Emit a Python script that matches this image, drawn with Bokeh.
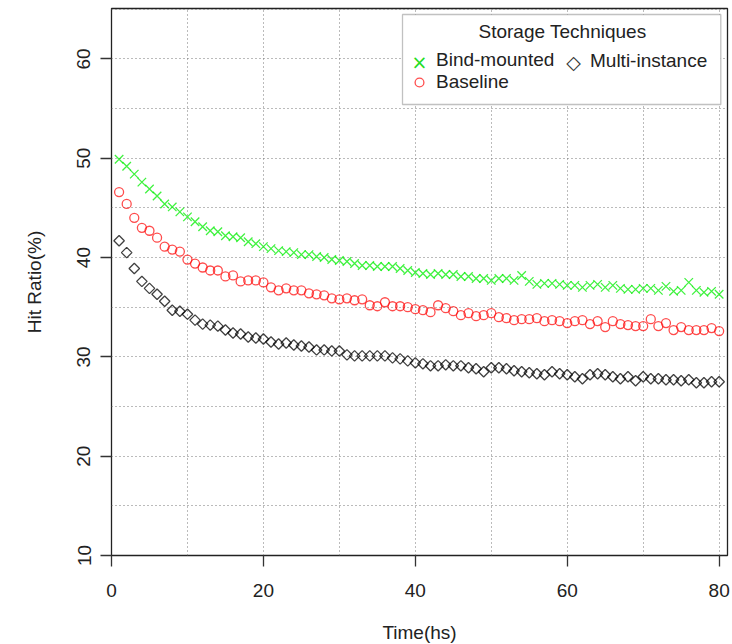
import math
from bokeh.plotting import figure
from bokeh.models import (Range1d, FixedTicker, Legend, LegendItem, BoxAnnotation, Label)
from bokeh.embed import file_html
from bokeh.resources import INLINE

time_hs = list(range(1, 81))

bind_mounted = [
    49.9, 49.2, 48.4, 47.6, 46.9, 46.2, 45.4, 45.1, 44.6, 44.1,
    43.6, 43.1, 42.7, 42.6, 42.2, 42.1, 42.0, 41.6, 41.4, 41.1,
    40.9, 40.7, 40.6, 40.5, 40.3, 40.3, 40.1, 40.0, 39.8, 39.7,
    39.6, 39.4, 39.2, 39.2, 39.1, 39.1, 39.1, 38.9, 38.7, 38.5,
    38.4, 38.3, 38.4, 38.3, 38.3, 38.1, 38.1, 37.9, 37.9, 37.7,
    37.9, 37.9, 37.7, 38.2, 37.6, 37.3, 37.4, 37.4, 37.3, 37.2,
    37.2, 37.0, 37.2, 37.3, 37.0, 37.2, 36.9, 36.8, 36.8, 36.9,
    36.9, 36.7, 37.1, 36.6, 36.7, 37.5, 36.7, 36.5, 36.6, 36.3,
]

baseline = [
    46.6, 45.4, 44.0, 43.0, 42.7, 42.0, 41.1, 40.8, 40.6, 39.8,
    39.4, 39.0, 38.7, 38.7, 38.1, 38.2, 37.6, 37.7, 37.7, 37.5,
    37.0, 36.7, 36.9, 36.7, 36.7, 36.4, 36.3, 36.2, 35.9, 35.8,
    35.9, 35.7, 35.8, 35.2, 35.1, 35.5, 35.1, 35.1, 35.0, 34.8,
    34.7, 34.5, 35.2, 34.9, 34.6, 34.2, 34.4, 34.1, 34.2, 34.4,
    34.0, 33.9, 33.7, 33.8, 33.8, 33.9, 33.6, 33.7, 33.6, 33.4,
    33.6, 33.7, 33.3, 33.6, 33.0, 33.6, 33.3, 33.2, 33.1, 33.1,
    33.8, 33.1, 33.4, 32.7, 33.0, 32.7, 32.7, 32.7, 32.9, 32.6,
]

multi_instance = [
    41.7, 40.5, 38.9, 37.6, 36.9, 36.3, 35.6, 34.7, 34.6, 34.3,
    33.7, 33.3, 33.2, 33.1, 32.7, 32.4, 32.3, 32.0, 31.9, 31.8,
    31.5, 31.3, 31.4, 31.2, 31.1, 31.0, 30.7, 30.7, 30.6, 30.6,
    30.2, 30.1, 30.1, 30.1, 30.1, 30.1, 29.9, 29.8, 29.6, 29.4,
    29.3, 29.1, 29.1, 29.2, 29.1, 29.1, 28.9, 28.8, 28.5, 28.9,
    28.9, 28.8, 28.6, 28.5, 28.4, 28.3, 28.2, 28.5, 28.3, 28.2,
    28.0, 27.8, 28.2, 28.3, 28.2, 28.0, 27.8, 28.0, 27.6, 28.0,
    27.8, 27.8, 27.7, 27.7, 27.6, 27.7, 27.4, 27.4, 27.5, 27.5,
]

x_ticks = [0, 20, 40, 60, 80]
y_ticks = [10, 20, 30, 40, 50, 60]
x_grid = [0, 10, 20, 30, 40, 50, 60, 70, 80]
y_grid = [10, 15, 20, 25, 30, 35, 40, 45, 50, 55, 60, 65]

legend_title = "Storage Techniques"
FONT = "Liberation Sans"

p = figure(
    width=732, height=644,
    frame_width=616, frame_height=547,
    min_border_left=111, min_border_right=5, min_border_top=8, min_border_bottom=89,
    x_range=Range1d(0, 81.1), y_range=Range1d(10, 65.08),
    output_backend="svg", toolbar_location=None,
    x_axis_label="Time(hs)", y_axis_label="Hit Ratio(%)",
)
p.outline_line_color = "#222222"
p.outline_line_width = 1.3
p.background_fill_color = "white"
p.border_fill_color = "white"

for ax in (p.xaxis[0], p.yaxis[0]):
    ax.axis_line_color = None
    ax.major_tick_in = 0
    ax.major_tick_out = 11
    ax.major_tick_line_color = "#333333"
    ax.major_tick_line_width = 1.3
    ax.minor_tick_line_color = None
    ax.major_label_text_font = FONT
    ax.major_label_text_font_size = "19px"
    ax.major_label_text_color = "#222222"
    ax.axis_label_text_font = FONT
    ax.axis_label_text_font_size = "19px"
    ax.axis_label_text_font_style = "normal"
    ax.axis_label_text_color = "#222222"

p.xaxis[0].ticker = FixedTicker(ticks=x_ticks)
p.yaxis[0].ticker = FixedTicker(ticks=y_ticks)
p.yaxis[0].major_label_orientation = "vertical"
p.xaxis[0].major_label_standoff = 17
p.yaxis[0].major_label_standoff = 10
p.xaxis[0].axis_label_standoff = 22
p.yaxis[0].axis_label_standoff = 30

p.xgrid.ticker = FixedTicker(ticks=x_grid)
p.ygrid.ticker = FixedTicker(ticks=y_grid)
for g in (p.xgrid[0], p.ygrid[0]):
    g.grid_line_color = "#777777"
    g.grid_line_dash = "1 3"
    g.grid_line_width = 1

r_bind = p.scatter(time_hs, bind_mounted, marker="x", size=12, line_color="#00ee00",
                   line_alpha=0.75, line_width=1.3)
r_base = p.scatter(time_hs, baseline, marker="circle", size=9, line_color="#ff0000",
                   line_alpha=0.7, fill_color=None, line_width=1.3)
r_multi = p.scatter(time_hs, multi_instance, marker="square", size=7.4, angle=math.pi / 4,
                    line_color="#000000", line_alpha=0.75, fill_color=None, line_width=1.3)

# legend frame and title
box = BoxAnnotation(left=291, right=609.3, bottom=451, top=541,
                    left_units="screen", right_units="screen",
                    bottom_units="screen", top_units="screen",
                    fill_color="white", fill_alpha=1.0,
                    line_color="#333333", line_width=1.3, level="annotation")
p.add_layout(box)
p.add_layout(Label(x=451, y=524, x_units="screen", y_units="screen", text=legend_title,
                   text_align="center", text_baseline="middle", text_font=FONT,
                   text_font_size="19px", text_color="#222222", level="annotation"))

common = dict(
    orientation="vertical", border_line_color=None, background_fill_alpha=0,
    label_text_font=FONT, label_text_font_size="19px", label_text_color="#222222",
    glyph_width=22, glyph_height=22, label_standoff=6, spacing=-1, padding=0, margin=0,
    label_height=20,
)
r_dummy_x = p.scatter([], [], marker="square", size=0, line_alpha=0, fill_alpha=0)
legend1 = Legend(
    items=[
        LegendItem(label="Bind-mounted", renderers=[r_dummy_x]),
        LegendItem(label="Baseline", renderers=[r_base]),
    ],
    location=(297, 462), **common,
)
p.add_layout(legend1, "center")
p.add_layout(Label(x=308, y=494, x_units="screen", y_units="screen", text="\u00D7",
                   text_align="center", text_baseline="middle", text_font="DejaVu Sans",
                   text_font_size="19px", text_color="#22dd22", level="overlay"))

# second legend column
r_dummy_d = p.scatter([], [], marker="square", size=0, line_alpha=0, fill_alpha=0)
legend2 = Legend(
    items=[LegendItem(label="Multi-instance", renderers=[r_dummy_d])],
    location=(451, 483), **common,
)
p.add_layout(legend2, "center")
p.add_layout(Label(x=462, y=494, x_units="screen", y_units="screen", text="\u25C7",
                   text_align="center", text_baseline="middle", text_font="DejaVu Sans",
                   text_font_size="19px", text_color="#333333", level="overlay"))

html = file_html(p, INLINE)
open("out.html", "w").write(html)
